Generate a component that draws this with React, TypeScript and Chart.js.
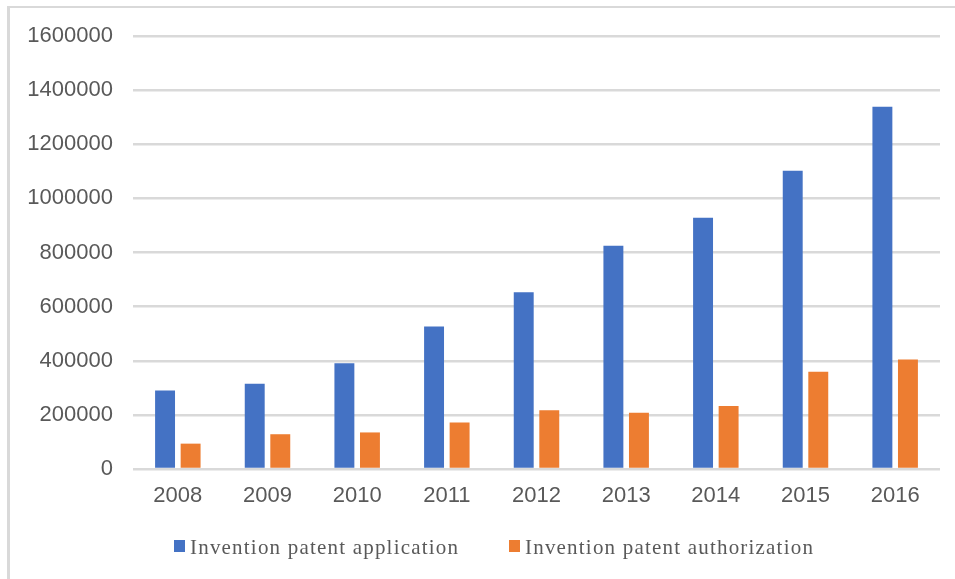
import { useEffect, useRef } from 'react';
import { Chart, registerables } from 'chart.js';

Chart.register(...registerables);

// Annual invention patent figures
const years = ['2008', '2009', '2010', '2011', '2012', '2013', '2014', '2015', '2016'];
const applications = [289838, 314573, 391177, 526412, 652777, 825136, 928177, 1101864, 1338503];
const authorizations = [93706, 128489, 135110, 172113, 217105, 207688, 233228, 359316, 404208];

const yTickValues = [0, 200000, 400000, 600000, 800000, 1000000, 1200000, 1400000, 1600000];
const seriesNames = ['Invention patent application', 'Invention patent authorization'];
const seriesColors = ['#4472C4', '#ED7D31'];

const TEXT_GRAY = '#595959';
const GRID_GRAY = '#d9d9d9';

// Legend drawn under the axis, with widened letter spacing
const bottomLegend = {
  id: 'bottomLegend',
  afterDraw(chart: any) {
    const ctx = chart.ctx as CanvasRenderingContext2D;
    const itemX = [164, 499];
    const baseline = 546;
    ctx.save();
    ctx.font = '21px "Liberation Serif", "Times New Roman", serif';
    (ctx as any).letterSpacing = '1.2px';
    ctx.textBaseline = 'alphabetic';
    ctx.textAlign = 'left';
    chart.data.datasets.forEach((ds: any, i: number) => {
      const x = itemX[i];
      ctx.fillStyle = ds.backgroundColor;
      ctx.fillRect(x, baseline - 14, 11, 12);
      ctx.fillStyle = TEXT_GRAY;
      ctx.fillText(ds.label, x + 16, baseline);
    });
    ctx.restore();
  },
};

export default function App() {
  const canvasRef = useRef<HTMLCanvasElement | null>(null);

  useEffect(() => {
    if (!canvasRef.current) return;
    const chart = new Chart(canvasRef.current, {
      type: 'bar',
      data: {
        labels: years,
        datasets: [
          {
            label: seriesNames[0],
            data: applications,
            backgroundColor: seriesColors[0],
            categoryPercentage: 0.57,
            barPercentage: 0.78,
          },
          {
            label: seriesNames[1],
            data: authorizations,
            backgroundColor: seriesColors[1],
            categoryPercentage: 0.57,
            barPercentage: 0.78,
          },
        ],
      },
      options: {
        responsive: false,
        animation: false,
        devicePixelRatio: 1,
        layout: { padding: { top: 28, right: 15, left: 0, bottom: 0 } },
        plugins: {
          legend: { display: false },
          tooltip: { enabled: false },
        },
        scales: {
          x: {
            grid: { display: false, drawTicks: false },
            border: { display: false },
            ticks: {
              color: TEXT_GRAY,
              padding: 14,
              font: { family: '"Liberation Sans", Arial, sans-serif', size: 22 },
            },
            afterFit: (scale: any) => {
              scale.height = 110;
              scale.paddingLeft = 0;
              scale.paddingRight = 0;
            },
          },
          y: {
            min: yTickValues[0],
            max: yTickValues[yTickValues.length - 1],
            grid: { color: GRID_GRAY, lineWidth: 2.5, drawTicks: false },
            border: { display: false },
            afterBuildTicks: (scale: any) => {
              scale.ticks = yTickValues.map((v) => ({ value: v }));
            },
            ticks: {
              color: TEXT_GRAY,
              padding: 20,
              font: { family: '"Liberation Sans", Arial, sans-serif', size: 22 },
              callback: (value: any) => String(value),
            },
            afterFit: (scale: any) => {
              scale.width = 123;
              scale.paddingTop = 0;
              scale.paddingBottom = 0;
            },
          },
        },
      },
      plugins: [bottomLegend],
    });
    return () => chart.destroy();
  }, []);

  return (
    <div
      style={{
        position: 'fixed',
        left: 7,
        top: 6,
        width: 960,
        height: 600,
        borderTop: `2px solid ${GRID_GRAY}`,
        borderLeft: `3px solid ${GRID_GRAY}`,
        background: '#fff',
        overflow: 'hidden',
      }}
    >
      <canvas ref={canvasRef} width={945} height={571} style={{ display: 'block' }} />
    </div>
  );
}
